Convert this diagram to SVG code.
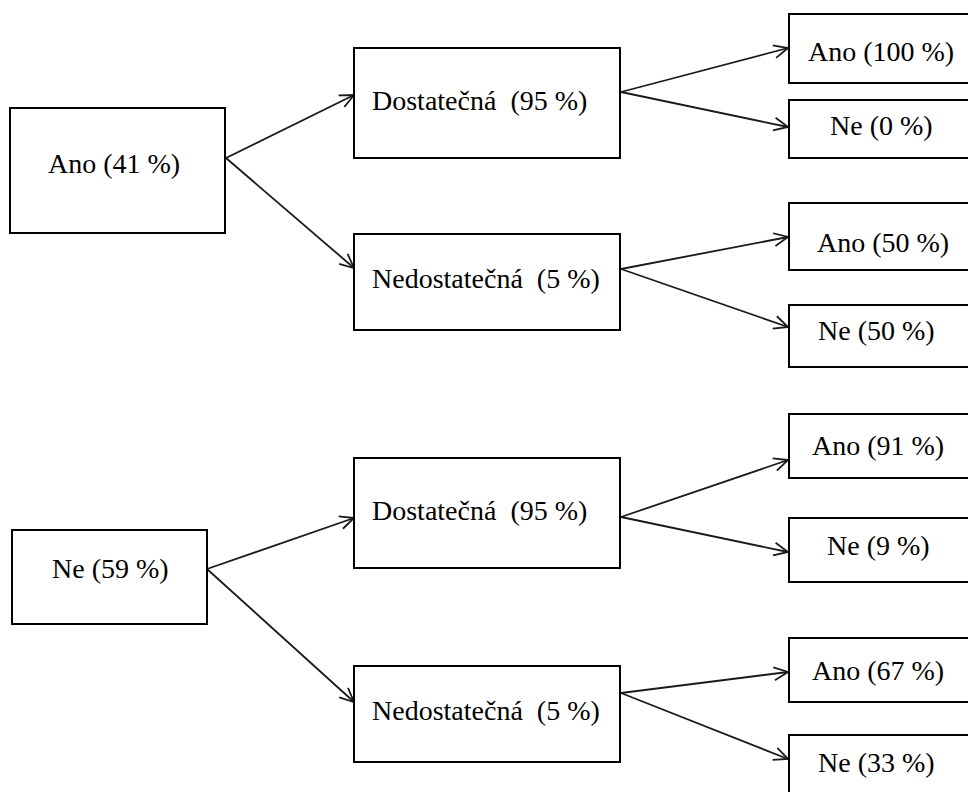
<svg xmlns="http://www.w3.org/2000/svg" width="968" height="792" viewBox="0 0 968 792">
  <style>
    .box { fill: #ffffff; stroke: #000000; stroke-width: 2; }
    .lbl { font-family: 'Liberation Serif', 'DejaVu Serif', 'Times New Roman', serif; font-size: 28px; fill: #000000; white-space: pre; }
    .edge { fill: none; stroke: #1a1a1a; stroke-width: 1.8; marker-end: url(#arrow); }
  </style>
  <defs>
    <marker id="arrow" markerUnits="userSpaceOnUse" markerWidth="20" markerHeight="20" viewBox="-16 -10 20 20" refX="0" refY="0" orient="auto">
      <path d="M-14,-6.5 L0,0 L-14,6.5" fill="none" stroke="#1a1a1a" stroke-width="1.8"/>
    </marker>
  </defs>
  <rect width="968" height="792" fill="#ffffff"/>

  <!-- connectors -->
  <g id="connectors">
    <line class="edge" x1="226" y1="158" x2="354" y2="95"/>
    <line class="edge" x1="226" y1="158" x2="354" y2="268"/>
    <line class="edge" x1="621" y1="92" x2="788" y2="48"/>
    <line class="edge" x1="621" y1="92" x2="788" y2="127"/>
    <line class="edge" x1="621" y1="269" x2="788" y2="237"/>
    <line class="edge" x1="621" y1="269" x2="788" y2="327"/>
    <line class="edge" x1="207" y1="569" x2="354" y2="518"/>
    <line class="edge" x1="207" y1="569" x2="354" y2="702"/>
    <line class="edge" x1="621" y1="517" x2="788" y2="460"/>
    <line class="edge" x1="621" y1="517" x2="788" y2="552"/>
    <line class="edge" x1="621" y1="693" x2="788" y2="672"/>
    <line class="edge" x1="621" y1="693" x2="788" y2="759"/>
  </g>

  <!-- first level -->
  <g id="n-ano">
    <rect class="box" x="10" y="108" width="215" height="125"/>
    <text class="lbl" font-family="Liberation Serif, serif" x="48" y="173">Ano (41 %)</text>
  </g>
  <g id="n-ne">
    <rect class="box" x="12" y="530" width="195" height="94"/>
    <text class="lbl" x="52" y="578">Ne (59 %)</text>
  </g>

  <!-- second level -->
  <g id="n-ano-dost">
    <rect class="box" x="354" y="48" width="266" height="110"/>
    <text class="lbl" x="372" y="110">Dostatečná  (95 %)</text>
  </g>
  <g id="n-ano-nedost">
    <rect class="box" x="354" y="234" width="266" height="96"/>
    <text class="lbl" x="372" y="288">Nedostatečná  (5 %)</text>
  </g>
  <g id="n-ne-dost">
    <rect class="box" x="354" y="458" width="266" height="110"/>
    <text class="lbl" x="372" y="520">Dostatečná  (95 %)</text>
  </g>
  <g id="n-ne-nedost">
    <rect class="box" x="354" y="666" width="266" height="96"/>
    <text class="lbl" x="372" y="720">Nedostatečná  (5 %)</text>
  </g>

  <!-- third level -->
  <g id="n-1">
    <rect class="box" x="789" y="14" width="185" height="69"/>
    <text class="lbl" x="808" y="61">Ano (100 %)</text>
  </g>
  <g id="n-2">
    <rect class="box" x="789" y="100" width="185" height="58"/>
    <text class="lbl" x="830" y="135">Ne (0 %)</text>
  </g>
  <g id="n-3">
    <rect class="box" x="789" y="203" width="185" height="67"/>
    <text class="lbl" x="817" y="252">Ano (50 %)</text>
  </g>
  <g id="n-4">
    <rect class="box" x="789" y="305" width="185" height="62"/>
    <text class="lbl" x="818" y="340">Ne (50 %)</text>
  </g>
  <g id="n-5">
    <rect class="box" x="789" y="414" width="185" height="64"/>
    <text class="lbl" x="812" y="455">Ano (91 %)</text>
  </g>
  <g id="n-6">
    <rect class="box" x="789" y="518" width="185" height="64"/>
    <text class="lbl" x="827" y="555">Ne (9 %)</text>
  </g>
  <g id="n-7">
    <rect class="box" x="789" y="638" width="185" height="64"/>
    <text class="lbl" x="812" y="680">Ano (67 %)</text>
  </g>
  <g id="n-8">
    <rect class="box" x="789" y="735" width="185" height="70"/>
    <text class="lbl" x="818" y="772">Ne (33 %)</text>
  </g>
</svg>
